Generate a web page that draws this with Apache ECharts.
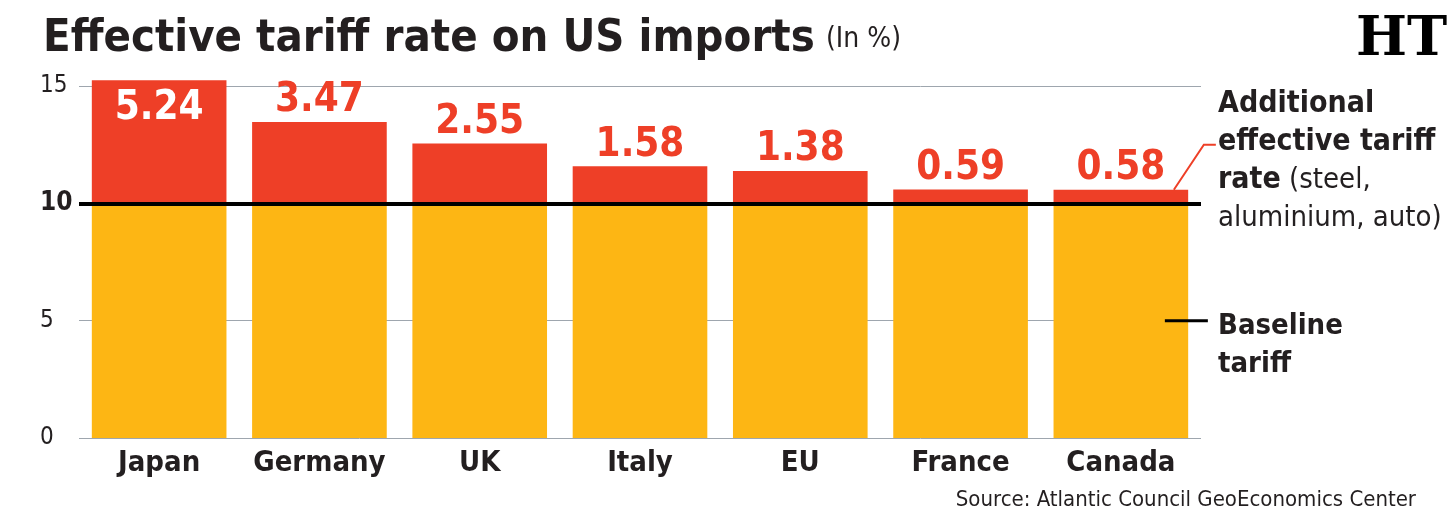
<!DOCTYPE html>
<html>
<head>
<meta charset="utf-8">
<script src="https://cdn.jsdelivr.net/npm/echarts@6/dist/echarts.min.js"></script>
<style>
  html, body { margin: 0; padding: 0; background: #fff; }
  #chart { width: 1456px; height: 531px; }
</style>
</head>
<body>
<div id="chart"></div>
<script>
var countries = ['Japan', 'Germany', 'UK', 'Italy', 'EU', 'France', 'Canada'];
var baseline = [10, 10, 10, 10, 10, 10, 10];
var additional = [5.24, 3.47, 2.55, 1.58, 1.38, 0.59, 0.58];
var yTicks = [0, 5, 10, 15];

var RED = '#ee3f27';
var ORANGE = '#fdb614';
var INK = '#231f20';
var FONT = '"DejaVu Sans Condensed", "DejaVu Sans", sans-serif';

var chart = echarts.init(document.getElementById('chart'));

var addData = additional.map(function (v, i) {
    if (i === 0) {
        // Japan goes past the top of the axis, its label sits inside the bar
        return {
            value: v,
            label: { position: 'insideTop', color: '#fff', distance: 8 }
        };
    }
    return v;
});

chart.setOption({
    animation: false,
    title: {
        text: 'Effective tariff rate on US imports',
        left: 38,
        top: 12,
        textStyle: {
            fontFamily: FONT,
            fontWeight: 'bold',
            fontSize: 45,
            color: INK
        }
    },
    grid: {
        left: 79,
        right: 255,
        top: 86,
        bottom: 93
    },
    xAxis: {
        type: 'category',
        data: countries,
        axisLine: { show: false },
        axisTick: { show: false },
        axisLabel: {
            interval: 0,
            margin: 11,
            fontFamily: FONT,
            fontWeight: 'bold',
            fontSize: 29,
            color: INK
        }
    },
    yAxis: {
        type: 'value',
        min: yTicks[0],
        max: yTicks[yTicks.length - 1],
        interval: 5,
        axisLine: { show: false },
        axisTick: { show: false },
        splitLine: { lineStyle: { color: '#9ea6ae', width: 1 } },
        axisLabel: {
            margin: 39,
            align: 'left',
            formatter: function (v) {
                return v === 10 ? '{b|' + v + '}' : '{a|' + v + '}';
            },
            rich: {
                a: { fontFamily: FONT, fontSize: 24, color: INK },
                b: { fontFamily: FONT, fontSize: 26, fontWeight: 'bold', color: INK }
            }
        }
    },
    series: [
        {
            name: 'Baseline tariff',
            type: 'bar',
            stack: 'total',
            barWidth: '84%',
            data: baseline,
            itemStyle: { color: ORANGE }
        },
        {
            name: 'Additional effective tariff rate',
            type: 'bar',
            stack: 'total',
            clip: false,
            data: addData,
            itemStyle: { color: RED },
            label: {
                show: true,
                position: 'top',
                distance: 1,
                fontFamily: FONT,
                fontWeight: 'bold',
                fontSize: 40,
                color: RED
            },
            markLine: {
                silent: true,
                symbol: 'none',
                label: { show: false },
                lineStyle: { color: '#000', width: 4, type: 'solid' },
                data: [{ yAxis: 10 }]
            },
            z: 3
        }
    ]
});

// annotations placed relative to the Canada bar
var last = countries.length - 1;
var topPt = chart.convertToPixel({ gridIndex: 0 }, [countries[last], baseline[last] + additional[last]]);
var midPt = chart.convertToPixel({ gridIndex: 0 }, [countries[last], 5]);

chart.setOption({
    graphic: [
        {
            type: 'text',
            left: 826,
            top: 26,
            style: {
                text: '(In %)',
                font: '28px ' + FONT,
                fill: INK
            }
        },
        {
            type: 'text',
            left: 1356,
            top: 14,
            style: {
                text: 'HT',
                font: 'bold 54px "DejaVu Serif", "Liberation Serif", serif',
                fill: '#000'
            }
        },
        {
            type: 'polyline',
            shape: {
                points: [
                    [topPt[0] + 53, topPt[1]],
                    [topPt[0] + 83, topPt[1] - 45],
                    [topPt[0] + 95, topPt[1] - 45]
                ]
            },
            style: { stroke: RED, lineWidth: 2, fill: null },
            z: 10
        },
        {
            type: 'text',
            left: 1218,
            top: 89,
            style: {
                text: '{b|Additional}\n{b|effective tariff}\n{b|rate}{r| (steel,}\n{r|aluminium, auto)}',
                rich: {
                    b: { font: 'bold 30px ' + FONT, fill: INK, lineHeight: 38 },
                    r: { font: '29px ' + FONT, fill: INK, lineHeight: 38 }
                }
            }
        },
        {
            type: 'line',
            shape: {
                x1: midPt[0] + 44, y1: midPt[1],
                x2: midPt[0] + 87, y2: midPt[1]
            },
            style: { stroke: '#000', lineWidth: 3 },
            z: 10
        },
        {
            type: 'text',
            left: 1218,
            top: 307,
            style: {
                text: 'Baseline\ntariff',
                font: 'bold 29px ' + FONT,
                fill: INK,
                lineHeight: 38
            }
        },
        {
            type: 'text',
            right: 40,
            top: 489,
            style: {
                text: 'Source: Atlantic Council GeoEconomics Center',
                font: '22px ' + FONT,
                fill: INK
            }
        }
    ]
});
</script>
</body>
</html>
